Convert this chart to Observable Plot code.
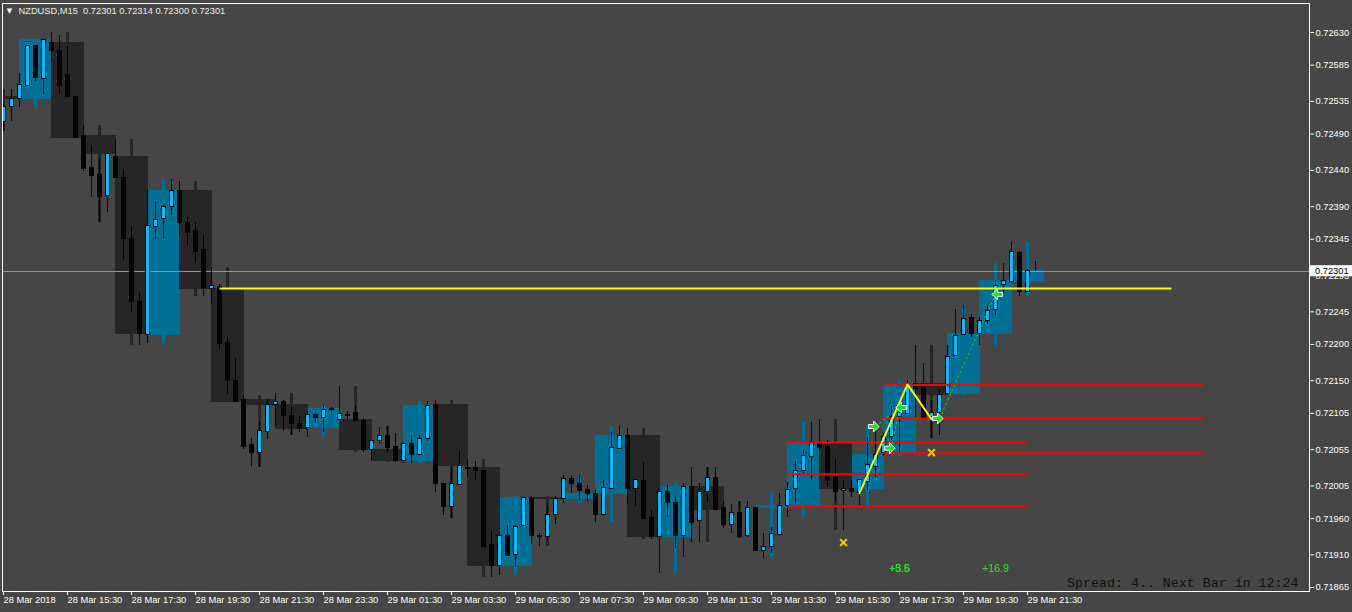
<!DOCTYPE html>
<html><head><meta charset="utf-8">
<script src="https://cdn.jsdelivr.net/npm/d3@7"></script>
<script src="https://cdn.jsdelivr.net/npm/@observablehq/plot@0.6"></script>
<style>
html,body{margin:0;padding:0;background:#464646;overflow:hidden}
</style></head><body><div id="chart"></div>
<script>
// M15 bars, bar index 0 = 28 Mar 13:30 (first two entries are 13:00 and 13:15, left of the view)
const firstBar = -2;
const barOpen = [0.72541,0.72516,0.72506,0.72527,0.72539,0.72556,0.72611,0.72566,0.72616,0.72604,0.72571,0.72541,
0.72487,0.72443,0.72433,0.72404,0.72459,0.72430,0.72346,0.72259,0.72213,0.72362,0.72373,0.72389,
0.72411,0.72368,0.72356,0.72330,0.72276,0.72279,0.72202,0.72150,0.72123,0.72061,0.72051,0.72080,
0.72116,0.72121,0.72102,0.72090,0.72085,0.72103,0.72099,0.72110,0.72096,0.72103,0.72106,0.72094,
0.72054,0.72067,0.72074,0.72059,0.72039,0.72063,0.72048,0.72070,0.72117,0.72007,0.71976,0.72006,
0.72030,0.72030,0.72025,0.71923,0.71894,0.71936,0.71910,0.71950,0.71988,0.71936,0.71935,0.71965,
0.71987,0.72014,0.72008,0.71999,0.71994,0.71965,0.72001,0.72056,0.72074,0.72001,0.72012,0.71961,
0.71935,0.71997,0.71982,0.71936,0.72004,0.71956,0.71996,0.72016,0.71974,0.71951,0.71968,0.71936,
0.71974,0.71916,0.71921,0.71938,0.71977,0.72001,0.72026,0.72045,0.72064,0.72058,0.72016,0.71998,
0.72001,0.71995,0.72011,0.72031,0.72051,0.72072,0.72100,0.72104,0.72146,0.72146,0.72100,0.72105,
0.72132,0.72184,0.72213,0.72237,0.72215,0.72232,0.72248,0.72282,0.72286,0.72326,0.72273,0.72301];
const barHigh = [0.72550,0.72520,0.72531,0.72552,0.72574,0.72612,0.72612,0.72621,0.72630,0.72626,0.72611,0.72542,
0.72502,0.72474,0.72456,0.72465,0.72482,0.72441,0.72362,0.72272,0.72412,0.72397,0.72392,0.72427,
0.72425,0.72375,0.72368,0.72350,0.72306,0.72283,0.72211,0.72181,0.72129,0.72070,0.72092,0.72124,
0.72132,0.72123,0.72115,0.72101,0.72108,0.72105,0.72114,0.72113,0.72142,0.72108,0.72114,0.72098,
0.72067,0.72085,0.72087,0.72077,0.72065,0.72074,0.72074,0.72121,0.72123,0.72007,0.72030,0.72052,
0.72041,0.72039,0.72025,0.71942,0.71938,0.71950,0.71950,0.71990,0.71990,0.71939,0.71978,0.71991,
0.72019,0.72018,0.72020,0.72006,0.71999,0.72012,0.72078,0.72087,0.72084,0.72013,0.72037,0.71971,
0.72000,0.72006,0.71991,0.72008,0.72030,0.72008,0.72030,0.72030,0.71984,0.71980,0.71984,0.71984,
0.71974,0.71939,0.71948,0.71995,0.72010,0.72039,0.72055,0.72093,0.72096,0.72068,0.72042,0.72013,
0.72013,0.72013,0.72072,0.72088,0.72077,0.72114,0.72119,0.72150,0.72199,0.72174,0.72123,0.72137,
0.72199,0.72248,0.72254,0.72241,0.72237,0.72254,0.72288,0.72311,0.72340,0.72328,0.72304,0.72314];
const barLow = [0.72511,0.72502,0.72493,0.72508,0.72527,0.72555,0.72563,0.72545,0.72589,0.72545,0.72539,0.72484,
0.72439,0.72402,0.72368,0.72382,0.72429,0.72316,0.72244,0.72199,0.72201,0.72345,0.72345,0.72378,
0.72349,0.72336,0.72311,0.72266,0.72255,0.72193,0.72131,0.72120,0.72055,0.72032,0.72031,0.72069,
0.72087,0.72080,0.72074,0.72078,0.72072,0.72091,0.72079,0.72107,0.72096,0.72096,0.72094,0.72051,
0.72040,0.72063,0.72051,0.72038,0.72036,0.72036,0.72047,0.72066,0.71996,0.71964,0.71960,0.72005,
0.72016,0.72012,0.71920,0.71879,0.71881,0.71908,0.71892,0.71950,0.71924,0.71921,0.71929,0.71952,
0.71981,0.71994,0.71984,0.71984,0.71954,0.71963,0.72000,0.72056,0.71980,0.71976,0.71959,0.71931,
0.71885,0.71961,0.71919,0.71906,0.71927,0.71927,0.71982,0.71972,0.71946,0.71940,0.71933,0.71934,
0.71914,0.71905,0.71912,0.71936,0.71961,0.71980,0.72019,0.72013,0.72054,0.72003,0.71983,0.71944,
0.71989,0.71978,0.71999,0.72017,0.72045,0.72068,0.72050,0.72104,0.72099,0.72098,0.72070,0.72074,
0.72130,0.72183,0.72212,0.72209,0.72199,0.72228,0.72240,0.72270,0.72284,0.72266,0.72273,0.72300];
const barClose = [0.72516,0.72506,0.72528,0.72539,0.72557,0.72611,0.72567,0.72620,0.72604,0.72556,0.72541,0.72484,
0.72442,0.72432,0.72403,0.72462,0.72429,0.72345,0.72258,0.72214,0.72363,0.72372,0.72390,0.72411,
0.72367,0.72353,0.72327,0.72276,0.72280,0.72200,0.72149,0.72121,0.72058,0.72051,0.72081,0.72116,
0.72121,0.72102,0.72090,0.72083,0.72103,0.72098,0.72110,0.72111,0.72104,0.72102,0.72094,0.72055,
0.72067,0.72074,0.72057,0.72040,0.72063,0.72047,0.72070,0.72115,0.72007,0.71976,0.72008,0.72033,
0.72029,0.72025,0.71921,0.71894,0.71936,0.71909,0.71949,0.71989,0.71936,0.71935,0.71965,0.71987,
0.72015,0.72008,0.71998,0.71994,0.71965,0.72002,0.72057,0.72074,0.72001,0.72013,0.71960,0.71934,
0.71996,0.71981,0.71936,0.72003,0.71954,0.71997,0.72016,0.71972,0.71951,0.71968,0.71934,0.71974,
0.71915,0.71921,0.71939,0.71978,0.72000,0.72026,0.72046,0.72066,0.72057,0.72012,0.71996,0.72001,
0.71996,0.72013,0.72034,0.72048,0.72072,0.72100,0.72105,0.72141,0.72139,0.72098,0.72105,0.72130,
0.72183,0.72212,0.72235,0.72215,0.72232,0.72246,0.72280,0.72287,0.72327,0.72273,0.72301,0.72301];

// axis ticks
const yTicks = [0.72630,0.72585,0.72535,0.72490,0.72440,0.72390,0.72345,0.72295,0.72245,0.72200,0.72150,0.72105,0.72055,0.72005,0.71960,0.71910,0.71865];
const xTickBars = [0,8,16,24,32,40,48,56,64,72,80,88,96,104,112,120,128];
const xTickLabels = ["28 Mar 2018","28 Mar 15:30","28 Mar 17:30","28 Mar 19:30","28 Mar 21:30","28 Mar 23:30","29 Mar 01:30","29 Mar 03:30","29 Mar 05:30","29 Mar 07:30","29 Mar 09:30","29 Mar 11:30","29 Mar 13:30","29 Mar 15:30","29 Mar 17:30","29 Mar 19:30","29 Mar 21:30"];

// objects on the chart
const bidPrice = 0.72301;
const yellowLevel = 0.72277, yellowFrom = 27, yellowTo = 146;
const redPrices = [0.72144,0.72098,0.72065,0.72050,0.72021,0.71977];
const redFrom = [110,110,98,110,98,98];
const redTo = [150,150,128,150,128,128];
const zigBars = [107,113,116];
const zigPrices = [0.71995,0.72145,0.72097];
const arrowRightBars = [109,111,117];
const arrowRightPrices = [0.72087,0.72057,0.72098];
const arrowLeftBars = [112,124];
const arrowLeftPrices = [0.72113,0.72269];
const dashFromBar = [109,111,117], dashFromPrice = [0.72087,0.72057,0.72098];
const dashToBar = [112,112,124], dashToPrice = [0.72113,0.72113,0.72269];
const crossBars = [105,116];
const crossPrices = [0.71927,0.72051];
const profitTexts = ["+5.6","+3.5","+16.9"];
const profitBars = [112,112,124];
const profitPrice = 0.71891;
const titleText = "NZDUSD,M15\u00a0\u00a00.72301 0.72314 0.72300 0.72301";
const spreadText = "Spread: 4.. Next Bar in 12:24";

// build tables
const bars = barOpen.map((o, k) => ({i: firstBar + k, o, h: barHigh[k], l: barLow[k], c: barClose[k]}));
const hours = [];
for (let k = 0; k < bars.length; k += 4) {
  const g = bars.slice(k, k + 4);
  hours.push({i: g[0].i, o: g[0].o, c: g[g.length - 1].c, h: d3.max(g, d => d.h), l: d3.min(g, d => d.l)});
}
const bullH = hours.filter(d => d.c > d.o), bearH = hours.filter(d => d.c <= d.o);
const bullB = bars.filter(d => d.c > d.o), bearB = bars.filter(d => d.c <= d.o);
const reds = redPrices.map((p, k) => ({p, a: redFrom[k], b: redTo[k]}));
const zig = zigBars.map((b, k) => ({b, p: zigPrices[k]}));
const arR = arrowRightBars.map((b, k) => ({b, p: arrowRightPrices[k]}));
const arL = arrowLeftBars.map((b, k) => ({b, p: arrowLeftPrices[k]}));
const dashes = dashFromBar.map((b, k) => ({b1: b, p1: dashFromPrice[k], b2: dashToBar[k], p2: dashToPrice[k]}));
const crosses = crossBars.map((b, k) => ({b, p: crossPrices[k]}));
const profits = profitTexts.map((t, k) => ({t, b: profitBars[k], p: profitPrice}));

const BULL_BOX = "#006f96", BEAR_BOX = "#262626", BULL = "#00bfff", LIME = "#1ee61e";
const FONT = "'Liberation Sans',Arial,sans-serif";
const arrowRight = {draw(ctx){ctx.moveTo(-5,-2);ctx.lineTo(0,-2);ctx.lineTo(0,-5.5);ctx.lineTo(5.5,0);ctx.lineTo(0,5.5);ctx.lineTo(0,2);ctx.lineTo(-5,2);ctx.closePath();}};
const arrowLeft = {draw(ctx){ctx.moveTo(5,-2);ctx.lineTo(0,-2);ctx.lineTo(0,-5.5);ctx.lineTo(-5.5,0);ctx.lineTo(0,5.5);ctx.lineTo(0,2);ctx.lineTo(5,2);ctx.closePath();}};

const crisp = {shapeRendering: "crispEdges", clip: true};
const chart = Plot.plot({
  width: 1352, height: 612,
  marginLeft: 2, marginRight: 43, marginTop: 3, marginBottom: 21,
  x: {domain: [-0.125, 163.25], label: null},
  y: {domain: [0.718595, 0.7267], label: null},
  style: {background: "#464646", color: "white", fontFamily: FONT, fontSize: "9.3px"},
  marks: [
    Plot.ruleX(bullH, {x: d => d.i + 2, y1: "l", y2: "h", stroke: BULL_BOX, strokeWidth: 3, ...crisp}),
    Plot.ruleX(bearH, {x: d => d.i + 2, y1: "l", y2: "h", stroke: BEAR_BOX, strokeWidth: 3, ...crisp}),
    Plot.rect(bullH, {x1: "i", x2: d => d.i + 4, y1: "o", y2: "c", fill: BULL_BOX, stroke: BULL_BOX, strokeWidth: 1, ...crisp}),
    Plot.rect(bearH, {x1: "i", x2: d => d.i + 4, y1: "o", y2: "c", fill: BEAR_BOX, stroke: BEAR_BOX, strokeWidth: 1, ...crisp}),
    Plot.ruleY([bidPrice], {stroke: "#8896a4", strokeWidth: 1, ...crisp}),
    Plot.ruleX(bars, {x: "i", y1: "l", y2: "h", stroke: "black", strokeWidth: 1, ...crisp}),
    Plot.rect(bearB, {x1: d => d.i - 1.5/8, x2: d => d.i + 2.5/8, y1: "o", y2: "c", fill: "black", stroke: "black", strokeWidth: 1, ...crisp}),
    Plot.rect(bullB, {x1: d => d.i - 1.5/8, x2: d => d.i + 2.5/8, y1: "o", y2: "c", fill: BULL, stroke: "black", strokeWidth: 1, ...crisp}),
    Plot.link([0], {x1: () => yellowFrom, x2: () => yellowTo, y1: () => yellowLevel, y2: () => yellowLevel, stroke: "#ffff00", strokeWidth: 2, clip: true}),
    Plot.link(reds, {x1: "a", x2: "b", y1: "p", y2: "p", stroke: "#ff0000", strokeWidth: 2, clip: true}),
    Plot.link(dashes, {x1: "b1", y1: "p1", x2: "b2", y2: "p2", stroke: LIME, strokeWidth: 1, strokeDasharray: "2,3", clip: true}),
    Plot.line(zig, {x: "b", y: "p", stroke: "#ffff00", strokeWidth: 2, clip: true}),
    Plot.dot(arR, {x: "b", y: "p", symbol: arrowRight, fill: LIME, stroke: "white", strokeWidth: 1, dx: -2, clip: true}),
    Plot.dot(arL, {x: "b", y: "p", symbol: arrowLeft, fill: LIME, stroke: "white", strokeWidth: 1, dx: 2, clip: true}),
    Plot.dot(crosses, {x: "b", y: "p", symbol: "times", r: 3.2, stroke: "#f2d000", strokeWidth: 2, clip: true}),
    Plot.text(profits, {x: "b", y: "p", text: "t", fill: LIME, fontFamily: FONT, fontSize: 10.5, textAnchor: "middle", lineAnchor: "middle"}),
    Plot.text([spreadText], {frameAnchor: "bottom-right", dx: -11, dy: -9, textAnchor: "end", lineAnchor: "middle", fontFamily: "'Liberation Mono','DejaVu Sans Mono',monospace", fontSize: 13.3, fill: "#111"}),
    Plot.text(["\u25BC"], {frameAnchor: "top-left", dx: 7, dy: 7, textAnchor: "middle", lineAnchor: "middle", fontSize: 7, fill: "white", fontFamily: "'DejaVu Sans',sans-serif"}),
    Plot.text([titleText], {frameAnchor: "top-left", dx: 16, dy: 7.5, textAnchor: "start", lineAnchor: "middle", fill: "#ececec"}),
    Plot.frame({stroke: "white"}),
    Plot.axisY(yTicks, {anchor: "right", tickFormat: d => d.toFixed(5), tickSize: 4, tickPadding: 2, stroke: "white", fill: "white", label: null}),
    Plot.axisX(xTickBars, {anchor: "bottom", tickFormat: d => xTickLabels[xTickBars.indexOf(d)], tickSize: 4, tickPadding: 1, textAnchor: "start", stroke: "white", fill: "white", label: null})
  ]
});
document.getElementById("chart").appendChild(chart);

// current price tag on the price axis
const yy = chart.scale("y").apply(bidPrice);
const svg = d3.select(chart);
svg.append("rect").attr("x", 1310).attr("y", yy - 5.5).attr("width", 42).attr("height", 11).attr("fill", "white");
svg.append("text").attr("x", 1315).attr("y", yy).attr("dy", "0.35em").attr("fill", "black")
  .attr("text-anchor", "start").attr("font-family", FONT).attr("font-size", 9.3)
  .text(bidPrice.toFixed(5));
</script></body></html>
